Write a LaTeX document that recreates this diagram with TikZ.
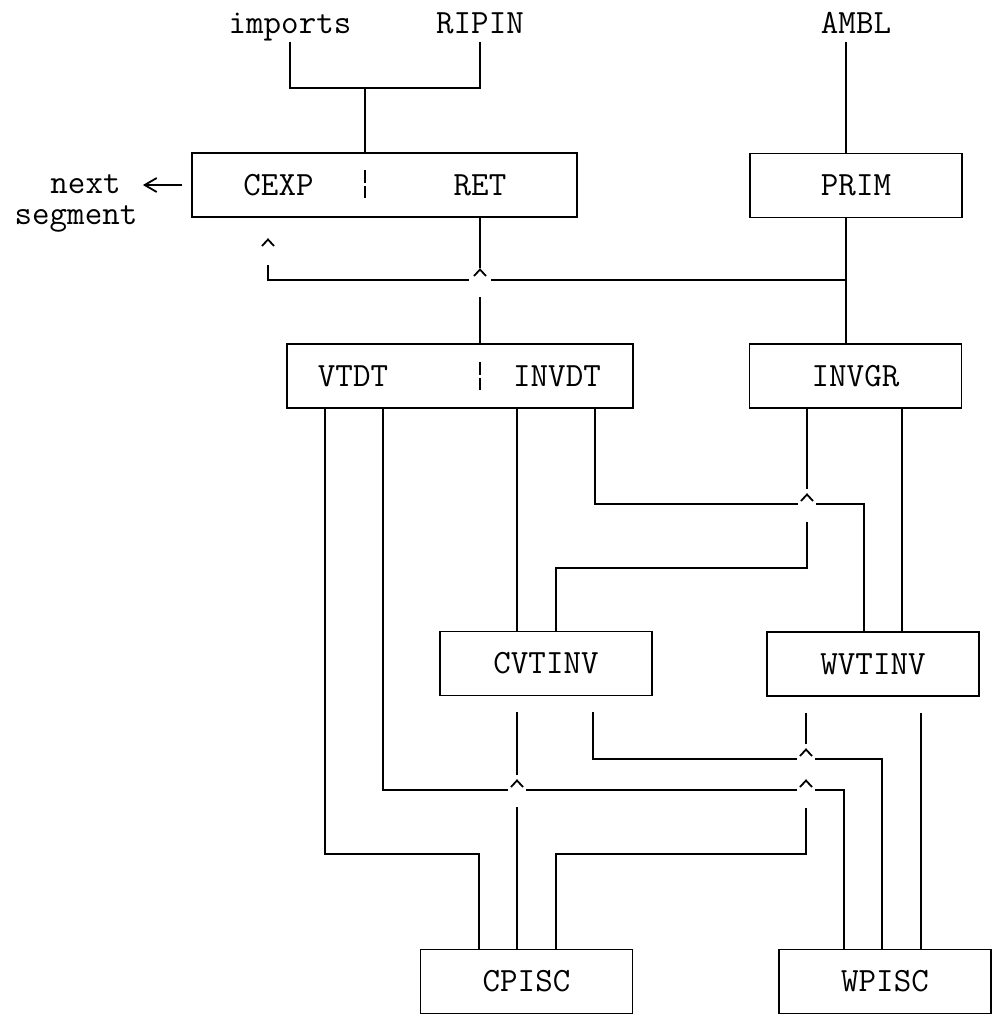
\documentclass[tikz,border=0pt]{standalone}
\usepackage{tikz}
\usetikzlibrary{positioning, arrows.meta}

\begin{document}
\begin{tikzpicture}[
	x=0.5pt, y=-0.5pt,
	unit/.style={
		rectangle,
		draw=black,
		line width=0.9pt,
		minimum width=106pt,
		minimum height=32pt,
		inner sep=0pt,
		font=\ttfamily\fontsize{17}{20}\selectfont
	},
	lbl/.style={
		inner sep=0pt,
		font=\ttfamily\fontsize{17}{20}\selectfont
	},
	wire/.style={
		line width=0.9pt,
		black
	},
	divider/.style={
		line width=0.9pt,
		dash pattern=on 6.5pt off 1.5pt
	},
	hopgap/.style={fill=white, draw=none},
	hopmark/.pic={
		\draw[line width=0.9pt] (-6,3) -- (0,-3.5) -- (6,3);
	}
	]
	\useasboundingbox (0,0) rectangle (1002,1019);
	
	% inputs
	\node[lbl, anchor=base, text depth=4.5pt] (imp) at (290,33) {imports};
	\node[lbl, anchor=base, text depth=4.5pt] (rip) at (480,33) {RIPIN};
	\node[lbl, anchor=base, text depth=4.5pt] (ambl) at (856,33) {AMBL};
	
	% boxes
	\node[unit, minimum width=192.5pt] (seg) at (384.5,185) {};
	\node[lbl] (cexp) at (278.5,185) {CEXP};
	\node[lbl] (ret) at (480,185) {RET};
	\draw[divider] (365,170) -- (365,198);
	\node[unit] (prim) at (856,185.5) {PRIM};
	\node[unit, minimum width=173pt] (vd) at (460,376) {};
	\node[lbl] (vtdt) at (353,376) {VTDT};
	\node[lbl] (invdt) at (557,376) {INVDT};
	\draw[divider] (480,362) -- (480,390);
	\node[unit] (invgr) at (855.5,376) {INVGR};
	\node[unit] (cvtinv) at (546,663.5) {CVTINV};
	\node[unit] (wvtinv) at (873,664) {WVTINV};
	\node[unit] (cpisc) at (526.5,981.5) {CPISC};
	\node[unit] (wpisc) at (885,981.5) {WPISC};
	\node[lbl, anchor=base, text depth=0pt] (nxt) at (85.5,193) {next};
	\node[lbl, anchor=base, text height=7pt] (sgm) at (76,224) {segment};
	
	\coordinate (join) at (365,88);
	\coordinate (tee) at (846,280);
	\coordinate (cexpin) at (268,265);
	
	% upper part
	\draw[wire] (imp.south) |- (join) -| (rip.south);
	\draw[wire] (join) -- (join |- seg.north);
	\draw[wire] (ambl.south -| tee) -- (prim.north -| tee);
	\draw[wire] (prim.south -| tee) -- (invgr.north -| tee);
	\draw[wire] (tee) -| (cexpin);
	\draw[wire] (seg.south -| ret) -- (vd.north -| ret);
	\draw[wire, -{Straight Barb[length=6pt,width=7pt]}, shorten <=4.5pt, shorten >=11pt]
	(seg.west) -- (seg.west -| nxt.east);
	
	% middle part
	\draw[wire] (vd.south -| 325,0) |- (479,854) -- (479,854 |- cpisc.north);
	\draw[wire] (vd.south -| 383,0) |- (844,790) -- (844,790 |- wpisc.north);
	\draw[wire] (vd.south -| 517,0) -- (cvtinv.north -| 517,0);
	\draw[wire] (vd.south -| 595,0) |- (864,504) -- (864,504 |- wvtinv.north);
	\draw[wire] (invgr.south -| 807,0) |- (556,568) -- (556,568 |- cvtinv.north);
	\draw[wire] (invgr.south -| 902,0) -- (wvtinv.north -| 902,0);
	
	% lower part
	\draw[wire, shorten <=8pt] (cvtinv.south -| 517,0) -- (cpisc.north -| 517,0);
	\draw[wire, shorten <=8pt] (cvtinv.south -| 593,0) |- (882,759) -- (882,759 |- wpisc.north);
	\draw[wire, shorten <=8pt] (wvtinv.south -| 806,0) |- (556,854) -- (556,854 |- cpisc.north);
	\draw[wire, shorten <=8pt] (wvtinv.south -| 921,0) -- (wpisc.north -| 921,0);
	
	% crossings
	\fill[hopgap] (469,268) rectangle (491,297);
	\pic at (480,273) {hopmark};
	\fill[hopgap] (798,489) rectangle (816,522);
	\pic at (807,498) {hopmark};
	\fill[hopgap] (508,775) rectangle (526,807);
	\pic at (517,784) {hopmark};
	\fill[hopgap] (797,744) rectangle (815,808);
	\pic at (806,753) {hopmark};
	\pic at (806,784) {hopmark};
	\pic at (268,243) {hopmark};
\end{tikzpicture}
\end{document}
